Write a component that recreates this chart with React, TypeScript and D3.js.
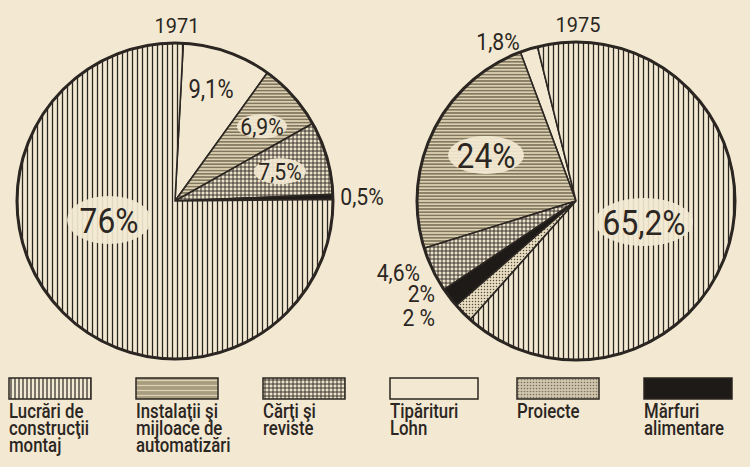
import React from "react";
import * as d3 from "d3";

const W = 750;
const H = 467;

// slice order, clockwise from the top of the 1971 pie
const sliceKeys = ["tip", "inst", "carti", "marfuri", "proiecte", "lucrari"];
const values1971 = [9.1, 6.9, 7.5, 0.5, 0, 76];
const values1975 = [1.8, 24, 4.6, 2, 2, 65.2];
const labels1971 = ["9,1%", "6,9%", "7,5%", "0,5%", "", "76%"];
const labels1975 = ["1,8%", "24%", "4,6%", "2%", "2 %", "65,2%"];
const years = ["1971", "1975"];

const legendKeys = ["lucrari", "inst", "carti", "tip", "proiecte", "marfuri"];
const legendLabels = [
  ["Lucrări de", "construcţii", "montaj"],
  ["Instalaţii şi", "mijloace de", "automatizări"],
  ["Cărţi şi", "reviste"],
  ["Tipărituri", "Lohn"],
  ["Proiecte"],
  ["Mărfuri", "alimentare"],
];

const paper = "#f3e9d3";
const ink = "#2b2622";
const deg = Math.PI / 180;
const font = "Roboto, 'DejaVu Sans', sans-serif";

// label placement relative to each pie centre: [dx, dy(baseline), size, anchor, ellipse rx, ry]
const labelPos1971: [number, number, number, string, number, number][] = [
  [36, -103, 25, "middle", 0, 0],
  [87, -66, 24, "middle", 25, 12],
  [105, -21, 24, "middle", 26, 13],
  [187, 4, 24, "middle", 0, 0],
  [0, 0, 0, "middle", 0, 0],
  [-66, 32, 36, "middle", 42, 24],
];
const labelPos1975: [number, number, number, string, number, number][] = [
  [-78, -151, 24, "middle", 0, 0],
  [-90, -33, 36, "middle", 38, 19],
  [-156, 80, 24, "end", 0, 0],
  [-141, 101, 24, "end", 0, 0],
  [-141, 125, 24, "end", 0, 0],
  [68, 34, 36, "middle", 49, 24],
];

const pies = [
  { cx: 175, cy: 201, r: 158, values: values1971, labels: labels1971, pos: labelPos1971, start: 3 * deg, dir: 1 },
  { cx: 576, cy: 201, r: 159, values: values1975, labels: labels1975, pos: labelPos1975, start: -14 * deg, dir: -1 },
];

function Patterns() {
  return (
    <defs>
      <pattern id="p-lucrari" patternUnits="userSpaceOnUse" width={5} height={5}>
        <rect width={5} height={5} fill={paper} />
        <line x1={2.5} x2={2.5} y1={0} y2={5} stroke={ink} strokeWidth={1.3} />
      </pattern>
      <pattern id="p-inst" patternUnits="userSpaceOnUse" width={4} height={3.2}>
        <rect width={4} height={3.2} fill="#ddd1b1" />
        <line x1={0} x2={4} y1={1.6} y2={1.6} stroke="#4a4230" strokeWidth={1} />
      </pattern>
      <pattern id="p-carti" patternUnits="userSpaceOnUse" width={4} height={4}>
        <rect width={4} height={4} fill="#ece2c9" />
        <line x1={2} x2={2} y1={0} y2={4} stroke={ink} strokeWidth={0.9} />
        <line x1={0} x2={4} y1={2} y2={2} stroke={ink} strokeWidth={0.9} />
      </pattern>
      <pattern id="p-tip" patternUnits="userSpaceOnUse" width={4} height={4}>
        <rect width={4} height={4} fill={paper} />
      </pattern>
      <pattern id="p-proiecte" patternUnits="userSpaceOnUse" width={3} height={3}>
        <rect width={3} height={3} fill="#e8ddc2" />
        <circle cx={1.5} cy={1.5} r={0.75} fill="#5a5040" />
      </pattern>
      <pattern id="p-marfuri" patternUnits="userSpaceOnUse" width={4} height={4}>
        <rect width={4} height={4} fill="#1e1a17" />
      </pattern>
      <pattern id="l-inst" patternUnits="userSpaceOnUse" width={6} height={5}>
        <rect width={6} height={5} fill="#a99d80" />
        <line x1={0} x2={6} y1={2.5} y2={2.5} stroke="#ddd2b6" strokeWidth={1.2} />
      </pattern>
      <pattern id="l-proiecte" patternUnits="userSpaceOnUse" width={3} height={3}>
        <rect width={3} height={3} fill="#cfc5ad" />
        <circle cx={1.5} cy={1.5} r={0.8} fill="#7a705c" />
      </pattern>
      <pattern id="l-lucrari" patternUnits="userSpaceOnUse" width={4} height={4}>
        <rect width={4} height={4} fill={paper} />
        <line x1={2} x2={2} y1={0} y2={4} stroke={ink} strokeWidth={1.2} />
      </pattern>
    </defs>
  );
}

function Pie({ p, year }: { p: (typeof pies)[number]; year: string }) {
  const gen = d3
    .pie<number>()
    .sort(null)
    .value((d) => d)
    .startAngle(p.start)
    .endAngle(p.start + p.dir * 2 * Math.PI);
  const arcs = gen(p.values);
  const arc = d3.arc<d3.PieArcDatum<number>>().innerRadius(0).outerRadius(p.r);

  return (
    <g transform={`translate(${p.cx},${p.cy})`}>
      {arcs.map((a, i) =>
        a.value > 0 ? (
          <path
            key={i}
            d={arc(a) || ""}
            fill={`url(#p-${sliceKeys[i]})`}
            stroke={ink}
            strokeWidth={1.6}
            strokeLinejoin="round"
          />
        ) : null
      )}
      <circle r={p.r} fill="none" stroke={ink} strokeWidth={3} />
      {p.labels.map((t, i) => {
        if (!t) return null;
        const [dx, dy, size, anchor, rx, ry] = p.pos[i];
        return (
          <g key={i}>
            {rx > 0 && <ellipse cx={dx} cy={dy - size * 0.36} rx={rx} ry={ry} fill={paper} opacity={0.92} />}
            <text
              transform={`translate(${dx},${dy}) scale(0.88,1)`}
              fontSize={size}
              textAnchor={anchor}
              fontFamily={font}
              fill={ink}
            >
              {t}
            </text>
          </g>
        );
      })}
      <text
        transform={`translate(2,${-p.r - 10}) scale(0.95,1)`}
        fontSize={21}
        textAnchor="middle"
        fontFamily={font}
        fill={ink}
      >
        {year}
      </text>
    </g>
  );
}

function Legend() {
  const x = d3.scaleLinear().domain([0, 5]).range([9, 644]);
  return (
    <g>
      {legendKeys.map((k, i) => (
        <g key={k} transform={`translate(${x(i)},378)`}>
          <rect
            width={k === "tip" || k === "marfuri" ? 88 : 82}
            height={21}
            fill={k === "inst" ? "url(#l-inst)" : k === "proiecte" ? "url(#l-proiecte)" : k === "lucrari" ? "url(#l-lucrari)" : `url(#p-${k})`}
            stroke={ink}
            strokeWidth={1.5}
          />
          {legendLabels[i].map((line, j) => (
            <text
              key={j}
              transform={`translate(0,${40 + j * 17}) scale(0.84,1)`}
              fontSize={20}
              fontWeight={500}
              fontFamily={font}
              fill={ink}
            >
              {line}
            </text>
          ))}
        </g>
      ))}
    </g>
  );
}

export default function App() {
  return (
    <div style={{ position: "fixed", left: 0, top: 0 }}>
      <svg width={W} height={H} style={{ display: "block", background: paper }}>
        <Patterns />
        <rect width={W} height={H} fill={paper} />
        {pies.map((p, i) => (
          <Pie key={i} p={p} year={years[i]} />
        ))}
        <Legend />
      </svg>
    </div>
  );
}
